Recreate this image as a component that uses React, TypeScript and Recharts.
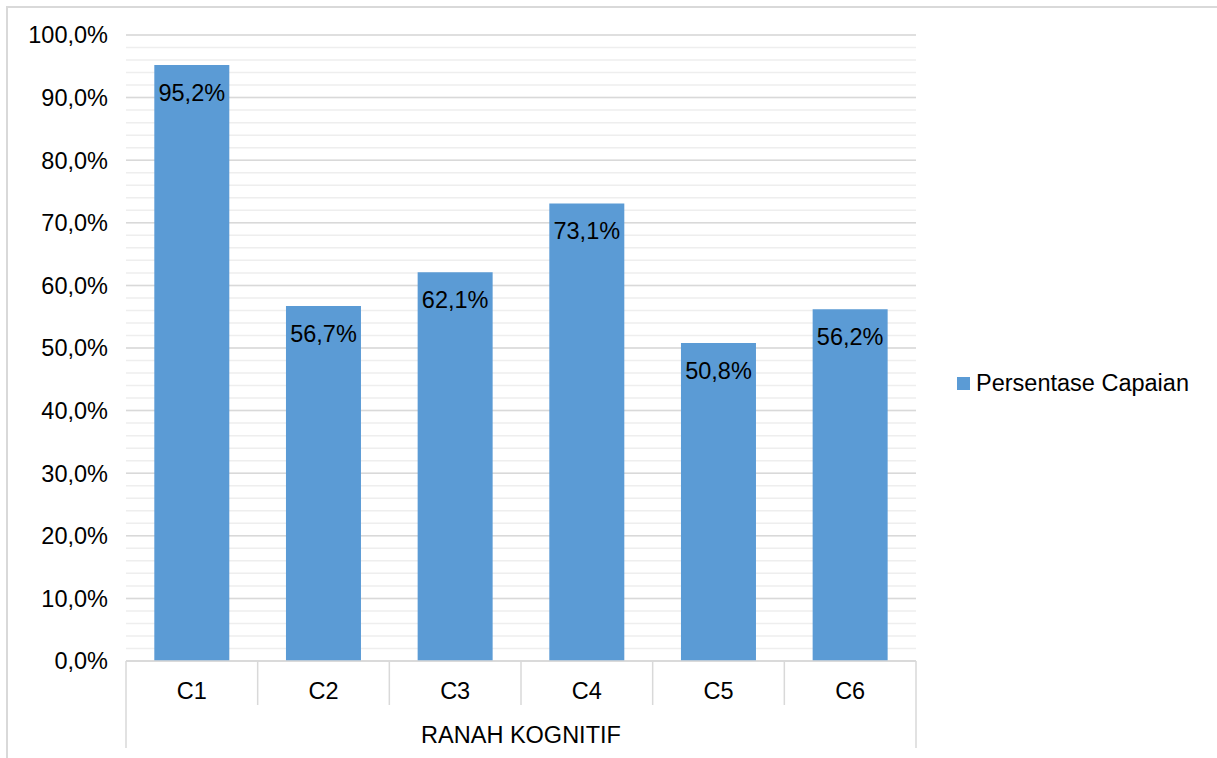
import {
  BarChart,
  Bar,
  CartesianGrid,
  XAxis,
  YAxis,
  LabelList,
  Label,
} from "recharts";

const categories = ["C1", "C2", "C3", "C4", "C5", "C6"];
const persentaseCapaian = [95.2, 56.7, 62.1, 73.1, 50.8, 56.2];
const majorTicks = [0, 10, 20, 30, 40, 50, 60, 70, 80, 90, 100];
const minorTicks = [
  0, 2, 4, 6, 8, 10, 12, 14, 16, 18, 20, 22, 24, 26, 28, 30, 32, 34, 36, 38,
  40, 42, 44, 46, 48, 50, 52, 54, 56, 58, 60, 62, 64, 66, 68, 70, 72, 74, 76,
  78, 80, 82, 84, 86, 88, 90, 92, 94, 96, 98, 100,
];
const axisTitle = "RANAH KOGNITIF";
const seriesName = "Persentase Capaian";

const data = categories.map((c, i) => ({
  label: c,
  value: persentaseCapaian[i],
}));

const W = 1217;
const H = 758;
const MARGIN = { top: 35, right: 301, bottom: 10, left: 0 };
const Y_AXIS_W = 126;
const X_AXIS_H = 87;
const PLOT_BOTTOM = H - MARGIN.bottom - X_AXIS_H;
const BAND = (W - MARGIN.left - MARGIN.right - Y_AXIS_W) / categories.length;
const Y_MAX = 100;

const FONT = "'Liberation Sans', Arial, sans-serif";
const FS = 23.5;
const BLUE = "#5b9bd5";
const LINE = "#d9d9d9";

const pct = (v: number) => `${v.toFixed(1).replace(".", ",")}%`;

// minor gridlines every 2%, placed with the y axis scale
const minorCoords = ({ yAxis, offset }: any) => {
  const s = yAxis && yAxis.scale;
  return minorTicks.map((t) => {
    if (typeof s === "function") return s(t);
    if (s && typeof s.map === "function") return s.map(t);
    return offset.top + offset.height * (1 - t / Y_MAX);
  });
};

function CategoryTick(props: any) {
  const { x, payload, index } = props;
  const last = index === categories.length - 1;
  return (
    <g>
      <line
        x1={x - BAND / 2}
        x2={x - BAND / 2}
        y1={PLOT_BOTTOM}
        y2={PLOT_BOTTOM + (index === 0 ? 87 : 44)}
        stroke={LINE}
        strokeWidth={1.5}
      />
      {last && (
        <line
          x1={x + BAND / 2}
          x2={x + BAND / 2}
          y1={PLOT_BOTTOM}
          y2={PLOT_BOTTOM + 87}
          stroke={LINE}
          strokeWidth={1.5}
        />
      )}
      <text
        x={x}
        y={PLOT_BOTTOM + 38}
        textAnchor="middle"
        fontSize={FS}
        fill="#000"
      >
        {payload.value}
      </text>
    </g>
  );
}

export default function App() {
  return (
    <div
      style={{
        position: "absolute",
        left: 0,
        top: 0,
        width: W,
        height: H,
        background: "#fff",
        fontFamily: FONT,
      }}
    >
      <div
        style={{
          position: "absolute",
          left: 6,
          top: 6,
          width: W - 6,
          height: H - 6,
          borderTop: `2px solid ${LINE}`,
          borderLeft: `2px solid ${LINE}`,
        }}
      />
      <BarChart
        width={W}
        height={H}
        data={data}
        margin={MARGIN}
        barCategoryGap="21.5%"
        style={{ fontFamily: FONT }}
      >
        <CartesianGrid
          vertical={false}
          stroke="#eeeeee"
          strokeWidth={1.5}
          horizontalCoordinatesGenerator={minorCoords}
        />
        <CartesianGrid
          vertical={false}
          stroke={LINE}
          strokeWidth={1.5}
        />
        <XAxis
          dataKey="label"
          height={X_AXIS_H}
          axisLine={{ stroke: LINE, strokeWidth: 1.5 }}
          tickLine={false}
          tickSize={0}
          tickMargin={0}
          interval={0}
          tick={<CategoryTick />}
        >
          <Label
            value={axisTitle}
            position="insideBottom"
            offset={5}
            fontSize={FS}
            fill="#000"
          />
        </XAxis>
        <YAxis
          width={Y_AXIS_W}
          domain={[0, Y_MAX]}
          ticks={majorTicks}
          axisLine={false}
          tickLine={false}
          tickMargin={12}
          tickFormatter={pct}
          tick={{ fontSize: FS, fill: "#000" }}
        />
        <Bar dataKey="value" name={seriesName} fill={BLUE} isAnimationActive={false}>
          <LabelList
            dataKey="value"
            position="insideTop"
            offset={19}
            formatter={(v: any) => pct(Number(v))}
            fontSize={FS}
            fill="#000"
          />
        </Bar>
      </BarChart>
      <div
        style={{
          position: "absolute",
          left: 957,
          top: 370,
          display: "flex",
          alignItems: "center",
          fontSize: FS,
          color: "#000",
          whiteSpace: "nowrap",
        }}
      >
        <span
          style={{
            width: 13,
            height: 13,
            background: BLUE,
            display: "inline-block",
            marginRight: 6,
          }}
        />
        <span>{seriesName}</span>
      </div>
    </div>
  );
}
